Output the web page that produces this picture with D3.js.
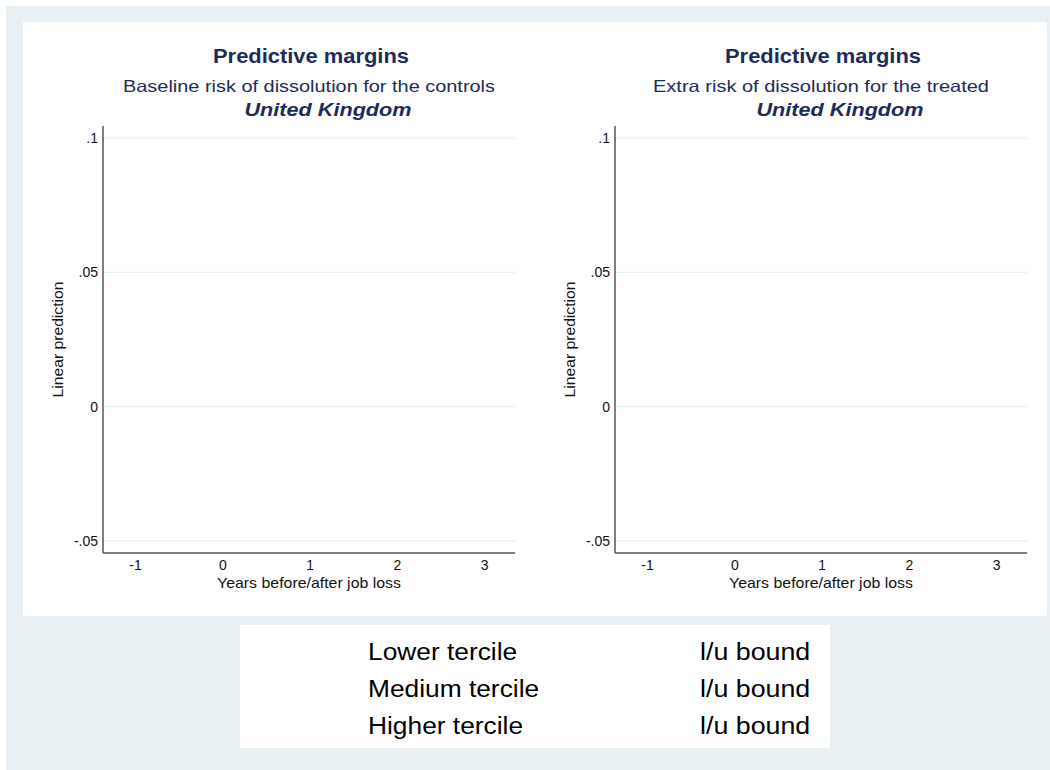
<!DOCTYPE html>
<html>
<head>
<meta charset="utf-8">
<script src="https://cdn.jsdelivr.net/npm/d3@7"></script>
<style>
  html, body { margin: 0; padding: 0; background: #ffffff; }
  svg { display: block; font-family: "Liberation Sans", Arial, Helvetica, sans-serif; }
</style>
</head>
<body>
<svg id="chart" width="1050" height="770"></svg>
<script>
// ---- data ----
const xTicks = [-1, 0, 1, 2, 3];
const xTickLabels = ["-1", "0", "1", "2", "3"];
const yTicks = [-0.05, 0, 0.05, 0.1];
const yTickLabels = ["-.05", "0", ".05", ".1"];
const xDomain = [-1.367, 3.355];
const yDomain = [-0.0545, 0.1045];
const panelTitles = ["Predictive margins", "Predictive margins"];
const panelSubtitles = ["Baseline risk of dissolution for the controls", "Extra risk of dissolution for the treated"];
const panelCountry = ["United Kingdom", "United Kingdom"];
const xAxisTitle = "Years before/after job loss";
const yAxisTitle = "Linear prediction";
const seriesNames = ["Lower tercile", "Medium tercile", "Higher tercile"];
const boundNames = ["l/u bound", "l/u bound", "l/u bound"];
// no estimates are drawn in the reference: series values are empty
const lowerValues = [];
const mediumValues = [];
const higherValues = [];

// ---- drawing ----
const svg = d3.select("#chart");
const bg = "#e8eff2";
const navy = "#1d2b59";
const FONT = "'Liberation Sans', Arial, sans-serif";

function stretch(sel, factor) {
  sel.each(function () {
    const w = this.getComputedTextLength();
    d3.select(this).attr("textLength", w * factor).attr("lengthAdjust", "spacingAndGlyphs");
  });
}

svg.append("rect").attr("x", 6).attr("y", 6).attr("width", 1044).attr("height", 764).attr("fill", bg);
svg.append("rect").attr("x", 23).attr("y", 22).attr("width", 1024).attr("height", 594).attr("fill", "#ffffff");

const plotLeft = 103, plotRight = 515, plotTop = 126, plotBottom = 553;
const panelOffsets = [0, 512];

panelOffsets.forEach((off, i) => {
  const g = svg.append("g").attr("transform", `translate(${off},0)`);
  const x = d3.scaleLinear().domain(xDomain).range([plotLeft, plotRight]);
  const y = d3.scaleLinear().domain(yDomain).range([plotBottom, plotTop]);
  const cx = (plotLeft + plotRight) / 2;

  // gridlines
  g.append("g").selectAll("line").data(yTicks).join("line")
    .attr("x1", plotLeft).attr("x2", plotRight)
    .attr("y1", d => y(d)).attr("y2", d => y(d))
    .attr("stroke", "#e6eff2").attr("stroke-width", 1.2);

  // y axis
  const yAxis = d3.axisLeft(y).tickValues(yTicks)
    .tickFormat((d, k) => yTickLabels[k]).tickSize(0).tickPadding(5);
  const ya = g.append("g").attr("transform", `translate(${plotLeft},0)`).call(yAxis);
  ya.select(".domain").attr("d", `M0,${plotTop}V${plotBottom}`).attr("stroke", "#555").attr("stroke-width", 1.5);
  ya.selectAll("text").attr("font-size", 14).attr("fill", "#111").attr("font-family", FONT);

  // x axis
  const xAxis = d3.axisBottom(x).tickValues(xTicks).tickFormat((d, k) => xTickLabels[k]).tickSize(0).tickPadding(7);
  const xa = g.append("g").attr("transform", `translate(0,${plotBottom})`).call(xAxis);
  xa.select(".domain").attr("d", `M${plotLeft},0H${plotRight}`).attr("stroke", "#555").attr("stroke-width", 1.5);
  xa.selectAll("text").attr("font-size", 14).attr("fill", "#111").attr("font-family", FONT);

  // axis titles
  g.append("text").attr("x", cx).attr("y", 588).attr("text-anchor", "middle")
    .attr("font-size", 14.5).attr("fill", "#111")
    .attr("textLength", 184).attr("lengthAdjust", "spacingAndGlyphs").text(xAxisTitle);
  g.append("text").attr("transform", `translate(63,${(plotTop + plotBottom) / 2}) rotate(-90)`)
    .attr("text-anchor", "middle").attr("font-size", 14.5).attr("fill", "#111")
    .attr("textLength", 116).attr("lengthAdjust", "spacingAndGlyphs").text(yAxisTitle);

  // titles
  g.append("text").attr("x", cx + 2).attr("y", 63).attr("text-anchor", "middle")
    .attr("font-size", 21).attr("font-weight", "bold").attr("fill", navy)
    .attr("textLength", 196).attr("lengthAdjust", "spacingAndGlyphs").text(panelTitles[i]);
  g.append("text").attr("x", cx).attr("y", 92).attr("text-anchor", "middle")
    .attr("font-size", 16.5).attr("fill", navy)
    .attr("textLength", i === 0 ? 372 : 336).attr("lengthAdjust", "spacingAndGlyphs").text(panelSubtitles[i]);
  g.append("text").attr("x", cx + 19).attr("y", 116).attr("text-anchor", "middle")
    .attr("font-size", 19).attr("font-weight", "bold").attr("font-style", "italic").attr("fill", navy)
    .attr("textLength", 167).attr("lengthAdjust", "spacingAndGlyphs").text(panelCountry[i]);

  // (no series lines: the reference shows no estimates)
  const line = d3.line().x(d => x(d[0])).y(d => y(d[1]));
  [lowerValues, mediumValues, higherValues].forEach(vals => {
    if (vals.length) g.append("path").datum(vals).attr("d", line).attr("fill", "none").attr("stroke", navy);
  });
});

// legend
const leg = svg.append("g");
leg.append("rect").attr("x", 240).attr("y", 625).attr("width", 590).attr("height", 123).attr("fill", "#ffffff");
const rowY = d3.scalePoint().domain(d3.range(seriesNames.length)).range([660, 734]);
leg.selectAll("text.s").data(seriesNames).join("text").attr("class", "s")
  .attr("x", 368).attr("y", (d, k) => rowY(k))
  .attr("font-size", 23.5).attr("fill", "#000").attr("font-family", FONT)
  .text(d => d).call(stretch, 1.12);
leg.selectAll("text.b").data(boundNames).join("text").attr("class", "b")
  .attr("x", 700).attr("y", (d, k) => rowY(k))
  .attr("font-size", 23.5).attr("fill", "#000").attr("font-family", FONT)
  .text(d => d).call(stretch, 1.14);
</script>
</body>
</html>
